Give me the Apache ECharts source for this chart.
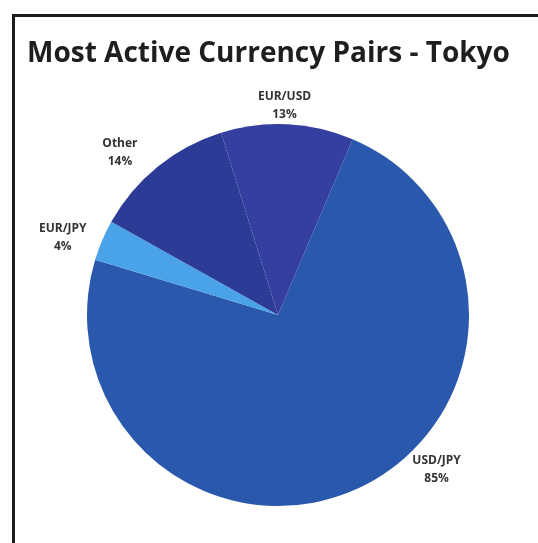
<!DOCTYPE html>
<html>
<head>
<meta charset="utf-8">
<title>Most Active Currency Pairs - Tokyo</title>
<script src="https://cdn.jsdelivr.net/npm/echarts@6/dist/echarts.min.js"></script>
<style>
  html, body { margin: 0; padding: 0; background: #ffffff; }
  #chart { width: 538px; height: 543px; }
</style>
</head>
<body>
<div id="chart"></div>
<script>
// Share of turnover by currency pair (percent as labelled)
const categories = ['USD/JPY', 'EUR/JPY', 'Other', 'EUR/USD'];
const shares = [85, 4, 14, 13];
const sliceColors = ['#2a58ac', '#4aa3e8', '#2c3b96', '#343f9f'];

// Pie geometry
const PIE_CX = 278;
const PIE_CY = 315;
const PIE_R = 191;
const LABEL_GAP = 3;
// Fine shifts applied after the radial label placement
const labelNudge = {
  'USD/JPY': [65, -45],
  'EUR/JPY': [-10, 10],
  'Other': [-20, 8],
  'EUR/USD': [-4, 4]
};

const chart = echarts.init(document.getElementById('chart'), null, { renderer: 'canvas' });

const pieData = categories.map((name, i) => ({
  name: name,
  value: shares[i],
  itemStyle: { color: sliceColors[i] }
}));

chart.setOption({
  backgroundColor: '#ffffff',
  animation: false,
  title: {
    text: 'Most Active Currency Pairs - Tokyo',
    left: 27,
    top: 40,
    padding: 0,
    textStyle: {
      fontFamily: 'Open Sans',
      fontWeight: 'bold',
      fontSize: 28,
      color: '#1e1e1e'
    }
  },
  graphic: [{
    type: 'rect',
    silent: true,
    shape: { x: 13.5, y: 15.5, width: 600, height: 600 },
    style: { fill: null, stroke: '#1c1c1c', lineWidth: 3 }
  }],
  series: [{
    type: 'pie',
    center: [PIE_CX, PIE_CY],
    radius: PIE_R,
    startAngle: 67,
    clockwise: true,
    avoidLabelOverlap: false,
    data: pieData,
    itemStyle: { borderWidth: 0 },
    label: {
      show: true,
      position: 'outside',
      formatter: '{b}\n{c}%',
      fontFamily: 'Open Sans',
      fontWeight: 'bold',
      fontSize: 12,
      lineHeight: 18,
      color: '#333333',
      distanceToLabelLine: 0
    },
    labelLine: { show: false, length: 0, length2: 0 },
    emphasis: { disabled: true },
    // Push each label radially until its box just clears the rim
    labelLayout: function (p) {
      const r = p.labelRect;
      const midX = r.x + r.width / 2;
      const anchorX = midX >= PIE_CX ? r.x : r.x + r.width;
      const anchorY = r.y + r.height / 2;
      let ux = anchorX - PIE_CX;
      let uy = anchorY - PIE_CY;
      const len = Math.hypot(ux, uy) || 1;
      ux /= len;
      uy /= len;
      const reach = PIE_R + LABEL_GAP + Math.abs(ux) * r.width / 2 + Math.abs(uy) * r.height / 2;
      const nudge = labelNudge[categories[p.dataIndex]] || [0, 0];
      return {
        x: PIE_CX + ux * reach + nudge[0],
        y: PIE_CY + uy * reach + nudge[1],
        align: 'center',
        verticalAlign: 'middle'
      };
    }
  }]
});
</script>
</body>
</html>
